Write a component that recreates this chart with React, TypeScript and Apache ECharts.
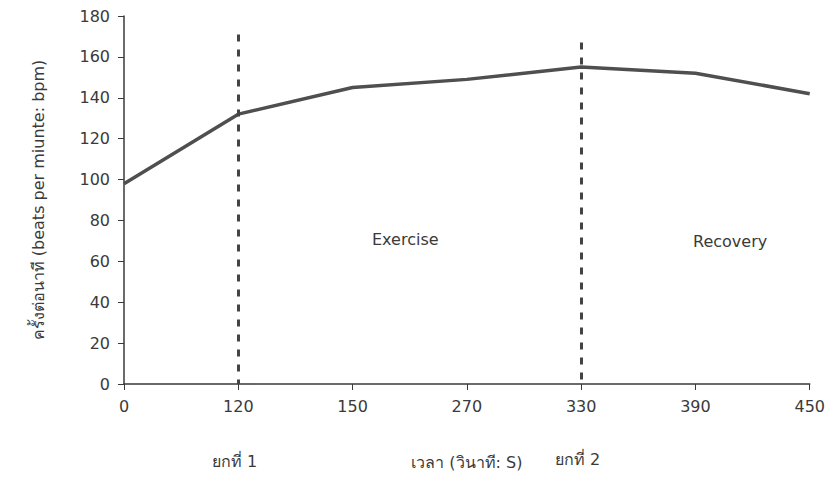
import React, { useEffect, useRef } from "react";
import * as echarts from "echarts";

const categories = ["0", "120", "150", "270", "330", "390", "450"];
const heartRate = [98, 132, 145, 149, 155, 152, 142];
const yTicks = { min: 0, max: 180, interval: 20 };
const roundMarks = [
  { cat: "120", top: 171, label: "ยกที่ 1" },
  { cat: "330", top: 167, label: "ยกที่ 2" },
];
const phaseLabels = ["Exercise", "Recovery"];

const FONT = "Tahoma, Verdana, 'DejaVu Sans', sans-serif";
const INK = "#3a3a3a";

export default function App() {
  const ref = useRef<HTMLDivElement>(null);
  useEffect(() => {
    if (!ref.current) return;
    const chart = echarts.init(ref.current, null, { renderer: "svg" });
    chart.setOption({
      animation: false,
      backgroundColor: "#ffffff",
      grid: { left: 116, right: 8, top: 7, bottom: 82 },
      xAxis: {
        type: "category",
        data: categories,
        boundaryGap: false,
        name: "เวลา (วินาที: S)",
        nameLocation: "middle",
        nameGap: 70,
        nameTextStyle: { fontFamily: FONT, fontSize: 16, color: INK },
        axisLine: { lineStyle: { color: INK, width: 1.5 } },
        axisTick: { show: true, length: 6, lineStyle: { color: INK } },
        axisLabel: { fontFamily: FONT, fontSize: 16, color: INK, margin: 14 },
        splitLine: { show: false },
      },
      yAxis: {
        type: "value",
        min: yTicks.min,
        max: yTicks.max,
        interval: yTicks.interval,
        name: "ครั้งต่อนาที (beats per miunte: bpm)",
        nameLocation: "middle",
        nameGap: 78,
        nameTextStyle: { fontFamily: FONT, fontSize: 16, color: INK },
        axisLine: { show: true, lineStyle: { color: INK, width: 1.5 } },
        axisTick: { show: true, length: 6, lineStyle: { color: INK } },
        axisLabel: { fontFamily: FONT, fontSize: 16, color: INK, margin: 14 },
        splitLine: { show: false },
      },
      series: [
        {
          type: "line",
          data: heartRate,
          symbol: "none",
          lineStyle: { color: "#4f4f4f", width: 3.5 },
          markLine: {
            symbol: ["none", "none"],
            silent: true,
            label: { show: false },
            lineStyle: { color: "#444444", width: 3, type: [7, 8] },
            data: roundMarks.map((m) => [
              { coord: [m.cat, m.top] },
              { coord: [m.cat, 0] },
            ]),
          },
        },
      ],
      graphic: [
        { type: "text", left: 364, top: 223, style: { text: phaseLabels[0], font: `16px ${FONT}`, fill: INK } },
        { type: "text", left: 685, top: 225, style: { text: phaseLabels[1], font: `16px ${FONT}`, fill: INK } },
        { type: "text", left: 204, top: 445, style: { text: roundMarks[0].label, font: `16px ${FONT}`, fill: INK } },
        { type: "text", left: 547, top: 443, style: { text: roundMarks[1].label, font: `16px ${FONT}`, fill: INK } },
      ],
    });
    return () => chart.dispose();
  }, []);
  return <div ref={ref} style={{ width: 820, height: 467 }} />;
}
